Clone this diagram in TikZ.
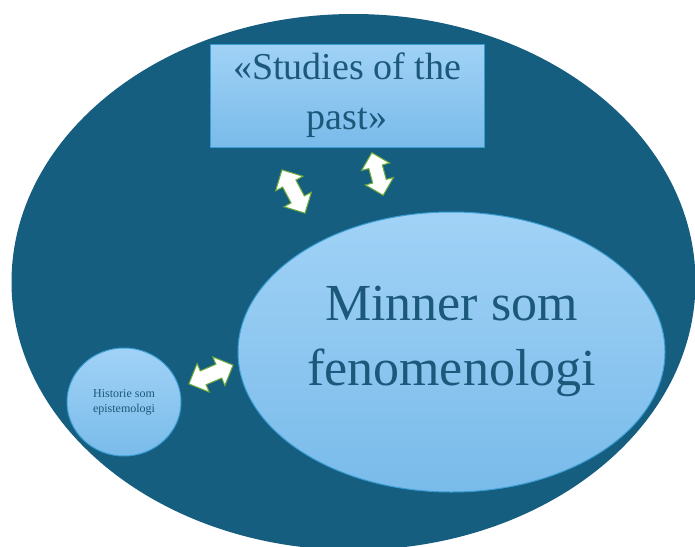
\documentclass[tikz,border=0pt]{standalone}
\usepackage{fontspec}
\setmainfont{Liberation Serif}
\usetikzlibrary{shapes.geometric,shapes.arrows,positioning}
\definecolor{deepteal}{RGB}{22,94,128}
\definecolor{skytop}{RGB}{161,210,246}
\definecolor{skybottom}{RGB}{121,187,234}
\definecolor{skyedge}{RGB}{56,158,212}
\definecolor{inktext}{RGB}{28,88,122}
\definecolor{leafgreen}{RGB}{110,172,58}
\tikzset
{
    backdrop/.style  = {ellipse, fill=deepteal, inner sep=0pt},
    bubble/.style    = {ellipse, draw=skyedge, line width=1pt, top color=skytop, bottom color=skybottom, inner sep=0pt},
    pastbox/.style   = {rectangle, draw=skyedge, line width=1pt, top color=skytop, bottom color=skybottom, inner sep=0pt, text=inktext, align=center},
    bubbletext/.style = {text=inktext, align=center, inner sep=0pt},
    linkarrow/.style = {double arrow, draw=leafgreen, fill=white, line width=1pt, inner xsep=0pt, inner ysep=7pt, double arrow head extend=8pt}
}

\begin{document}
\begin{tikzpicture}[x=1pt, y=-1pt]
    \useasboundingbox (0,0) rectangle (695,546);
    \clip (0,0) rectangle (695,546);
    \node [backdrop, minimum width=684pt, minimum height=536pt] (world) at (353.5,282) {};
    \node [pastbox, minimum width=274pt, minimum height=103pt, font=\fontsize{38}{50}\selectfont] (past) at (347,95.5) {«Studies of the\\past»};
    \node [bubble, minimum width=427pt, minimum height=280pt] (memory) at (451.5,352) {};
    \node [bubbletext, font=\fontsize{52}{65}\selectfont, yshift=11pt] (memorytext) at (memory.center) {Minner som\\fenomenologi};
    \node [bubble, minimum width=114pt, minimum height=108pt, text=inktext, align=center, font=\fontsize{12}{15}\selectfont] (history) at (124,402) {Historie som\\epistemologi};
    \node [linkarrow, minimum height=49pt, rotate=-62] (pastlink) at (293.5,191.5) {};
    \node [linkarrow, minimum height=44pt, inner ysep=6.5pt, double arrow head extend=7.5pt, rotate=-75] (memlink) at (377.5,174) {};
    \node [linkarrow, minimum height=48pt, rotate=23] (histlink) at (211,374.5) {};
\end{tikzpicture}
\end{document}
